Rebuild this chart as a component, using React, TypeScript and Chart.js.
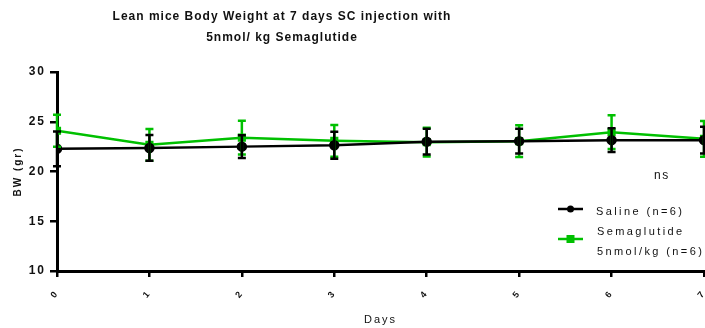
import React, { useEffect, useRef } from "react";
import { Chart, registerables } from "chart.js";

Chart.register(...registerables);

const days = [0, 1, 2, 3, 4, 5, 6, 7];
const salineMean = [22.28, 22.37, 22.5, 22.64, 23.0, 23.05, 23.15, 23.15];
const salineErr = [1.75, 1.3, 1.15, 1.35, 1.3, 1.25, 1.2, 1.35];
const semaMean = [24.1, 22.68, 23.4, 23.08, 22.95, 23.05, 23.95, 23.28];
const semaErr = [1.6, 1.6, 1.7, 1.6, 1.45, 1.6, 1.7, 1.8];
const yTicks = [10, 15, 20, 25, 30];
const titleLines = [
  "Lean mice Body Weight at 7 days SC injection with",
  "5nmol/ kg Semaglutide",
];
const salineLabel = "Saline (n=6)";
const semaLabelLines = ["Semaglutide", "5nmol/kg (n=6)"];

const BLACK = "#000000";
const GREEN = "#00C000";

const spacingPlugin = {
  id: "spacing",
  beforeDraw(chart: any) {
    (chart.ctx as any).letterSpacing = "2px";
  },
};

const errorBarPlugin = {
  id: "errorBars",
  afterDatasetsDraw(chart: any) {
    const ctx = chart.ctx;
    const xs = chart.scales.x;
    const ys = chart.scales.y;
    const sets = [
      { m: semaMean, e: semaErr, c: GREEN },
      { m: salineMean, e: salineErr, c: BLACK },
    ];
    ctx.save();
    for (const s of sets) {
      ctx.strokeStyle = s.c;
      ctx.lineWidth = 2.5;
      s.m.forEach((v, i) => {
        const x = xs.getPixelForValue(days[i]);
        const y1 = ys.getPixelForValue(v + s.e[i]);
        const y2 = ys.getPixelForValue(v - s.e[i]);
        ctx.beginPath();
        ctx.moveTo(x, y1);
        ctx.lineTo(x, y2);
        ctx.moveTo(x - 4, y1);
        ctx.lineTo(x + 4, y1);
        ctx.moveTo(x - 4, y2);
        ctx.lineTo(x + 4, y2);
        ctx.stroke();
      });
    }
    ctx.restore();
  },
};

const textPlugin = {
  id: "texts",
  afterDraw(chart: any) {
    const ctx = chart.ctx;
    ctx.save();
    (ctx as any).letterSpacing = "1px";
    ctx.fillStyle = "#111";
    ctx.font = "bold 12px 'Liberation Sans', Arial, sans-serif";
    ctx.textAlign = "center";
    ctx.textBaseline = "middle";
    ctx.fillText(titleLines[0], 282, 17);
    ctx.fillText(titleLines[1], 282, 38);

    // ns
    (ctx as any).letterSpacing = "1.5px";
    ctx.font = "12px 'Liberation Sans', Arial, sans-serif";
    ctx.textAlign = "left";
    ctx.fillText("ns", 654, 176);

    // legend
    (ctx as any).letterSpacing = "2.4px";
    ctx.font = "11px 'Liberation Sans', Arial, sans-serif";
    ctx.lineWidth = 2.5;
    ctx.strokeStyle = BLACK;
    ctx.beginPath();
    ctx.moveTo(558, 209);
    ctx.lineTo(583, 209);
    ctx.stroke();
    ctx.fillStyle = BLACK;
    ctx.beginPath();
    ctx.arc(570.5, 209, 3.5, 0, Math.PI * 2);
    ctx.fill();
    ctx.fillStyle = "#111";
    ctx.fillText(salineLabel, 596, 212);

    ctx.strokeStyle = GREEN;
    ctx.beginPath();
    ctx.moveTo(558, 239);
    ctx.lineTo(583, 239);
    ctx.stroke();
    ctx.fillStyle = GREEN;
    ctx.fillRect(566.5, 235, 8, 8);
    ctx.fillStyle = "#111";
    ctx.fillText(semaLabelLines[0], 597, 232);
    ctx.fillText(semaLabelLines[1], 597, 252);
    ctx.restore();
  },
};

export default function App() {
  const ref = useRef<HTMLCanvasElement>(null);
  useEffect(() => {
    if (!ref.current) return;
    const chart = new Chart(ref.current, {
      type: "line",
      data: {
        datasets: [
          {
            label: salineLabel,
            data: days.map((d, i) => ({ x: d, y: salineMean[i] })),
            borderColor: BLACK,
            backgroundColor: BLACK,
            borderWidth: 2.5,
            pointStyle: "circle",
            pointRadius: 4,
            tension: 0,
          },
          {
            label: semaLabelLines.join(" "),
            data: days.map((d, i) => ({ x: d, y: semaMean[i] })),
            borderColor: GREEN,
            backgroundColor: GREEN,
            borderWidth: 2.5,
            pointStyle: "rect",
            pointRadius: 4,
            tension: 0,
          },
        ],
      },
      options: {
        animation: false,
        responsive: false,
        layout: { autoPadding: false, padding: { top: 72, right: 1, left: 0, bottom: 0 } },
        plugins: { legend: { display: false }, tooltip: { enabled: false } },
        scales: {
          x: {
            type: "linear",
            min: 0,
            max: 7,
            afterFit(scale: any) {
              scale.height = 57;
              scale.paddingRight = 0;
              scale.paddingLeft = 0;
            },
            afterBuildTicks(scale: any) {
              scale.ticks = days.map((d) => ({ value: d }));
            },
            ticks: {
              stepSize: 1,
              minRotation: 50,
              maxRotation: 50,
              color: "#111",
              font: { family: "'Liberation Sans', Arial", size: 9, weight: "bold" },
              padding: 11,
            },
            grid: {
              display: true,
              drawOnChartArea: false,
              drawTicks: true,
              tickLength: 6,
              color: BLACK,
              lineWidth: 2.5,
            },
            border: { display: true, color: BLACK, width: 3 },
            title: {
              display: true,
              text: "Days",
              color: "#111",
              font: { family: "'Liberation Sans', Arial", size: 11 },
              padding: { top: 0, bottom: 1 },
            },
          },
          y: {
            min: 10,
            max: 30,
            afterFit(scale: any) {
              scale.width = 57;
              scale.paddingTop = 0;
              scale.paddingBottom = 0;
            },
            afterBuildTicks(scale: any) {
              scale.ticks = yTicks.map((v) => ({ value: v }));
            },
            ticks: {
              color: "#111",
              font: { family: "'Liberation Sans', Arial", size: 12, weight: "bold" },
              padding: 4,
            },
            grid: {
              display: true,
              drawOnChartArea: false,
              drawTicks: true,
              tickLength: 7,
              color: BLACK,
              lineWidth: 2.5,
            },
            border: { display: true, color: BLACK, width: 3 },
            title: {
              display: true,
              text: "BW (gr)",
              color: "#111",
              font: { family: "'Liberation Sans', Arial", size: 10, weight: "bold" },
              padding: { top: 12, bottom: 0 },
            },
          },
        },
      },
      plugins: [spacingPlugin, errorBarPlugin, textPlugin],
    } as any);
    return () => chart.destroy();
  }, []);
  return (
    <div style={{ position: "absolute", left: 0, top: 0, width: 705, height: 328, background: "#fff" }}>
      <canvas ref={ref} width={705} height={328} style={{ width: 705, height: 328 }} />
    </div>
  );
}
